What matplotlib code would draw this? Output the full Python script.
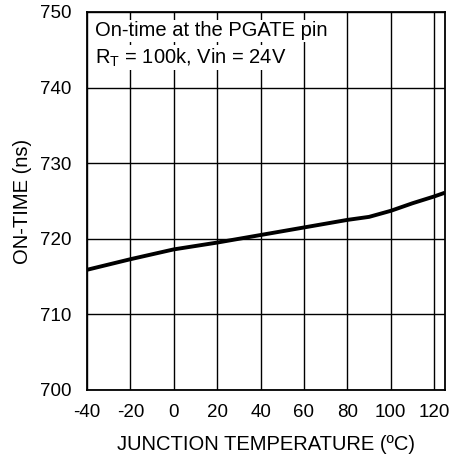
import matplotlib
matplotlib.use("Agg")
import matplotlib.pyplot as plt

temp = [-40, -20, 0, 20, 40, 60, 80, 90, 100, 110, 120, 125]
on_time = [715.9, 717.3, 718.6, 719.5, 720.5, 721.5, 722.5, 722.9, 723.7, 724.7, 725.6, 726.1]
xticks = [-40, -20, 0, 20, 40, 60, 80, 100, 120]
yticks = [700, 710, 720, 730, 740, 750]

plt.rcParams['font.family'] = ['Liberation Sans', 'DejaVu Sans']
plt.rcParams['axes.unicode_minus'] = False
fig = plt.figure(figsize=(4.54, 4.58), dpi=100)
ax = fig.add_axes([87/454, 1-390/458, (445-87)/454, (390-12)/458])
ax.plot(temp, on_time, color='black', lw=2.8, zorder=3, solid_capstyle='butt')
ax.set_xlim(-40, 125)
ax.set_ylim(700, 750)
ax.set_xticks(xticks)
ax.set_yticks(yticks)
ax.set_xticklabels([str(v) for v in xticks])
ax.set_yticklabels([str(v) for v in yticks])
ax.grid(True, color='black', lw=1.0)
ax.set_axisbelow(True)
for s in ax.spines.values():
    s.set_linewidth(1.3)
ax.tick_params(length=0, labelsize=13.5)
ax.tick_params(axis='y', pad=11)
ax.tick_params(axis='x', pad=10)
ax.set_xlabel('JUNCTION TEMPERATURE (ºC)', fontsize=14.5, labelpad=10)
ax.set_ylabel('ON-TIME (ns)', fontsize=14.5, labelpad=6)
bb = dict(facecolor='white', edgecolor='none', pad=1)
ax.text(-36.5, 747.5, 'On-time at the PGATE pin', fontsize=14.5, va='center', ha='left', bbox=bb, zorder=4)
ax.text(-36.5, 744.0, r'R$_\mathregular{T}$ = 100k, Vin = 24V', fontsize=14.5, va='center', ha='left', bbox=bb, zorder=4)
fig.savefig('out.png', dpi=100)
